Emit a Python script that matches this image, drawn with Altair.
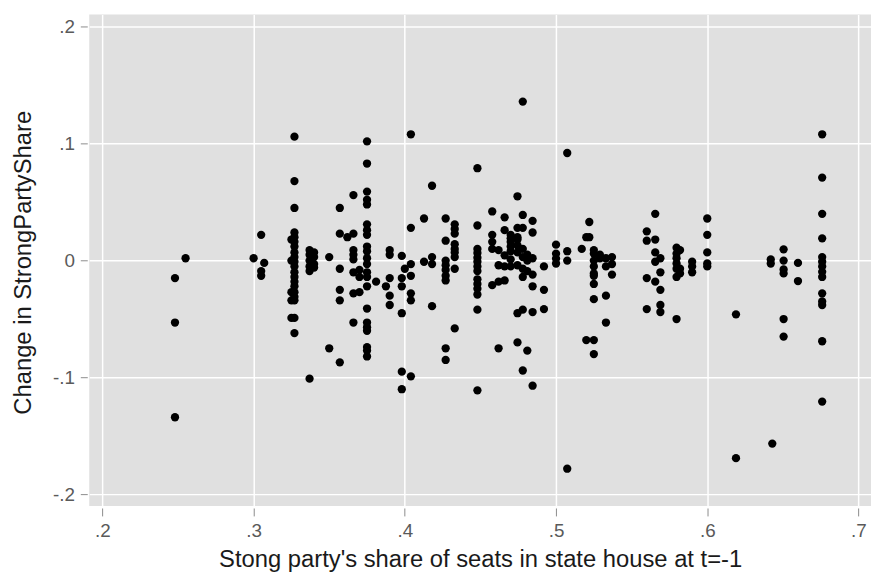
import altair as alt
import pandas as pd

# Strong party's share of seats at t-1 (x) and the change in StrongPartyShare (y),
# grouped by x value.
x_groups = [
    0.248, 0.255, 0.300, 0.305, 0.307, 0.325, 0.327, 0.337, 0.340, 0.350,
    0.357, 0.362, 0.366, 0.370, 0.375, 0.381, 0.3875, 0.390, 0.398, 0.400,
    0.404, 0.4127, 0.418, 0.427, 0.433, 0.448, 0.4578, 0.462, 0.466, 0.470,
    0.4745, 0.478, 0.481, 0.4845, 0.492, 0.500, 0.5074, 0.517, 0.520, 0.522,
    0.525, 0.529, 0.533, 0.537, 0.560, 0.5656, 0.569, 0.5797, 0.582, 0.590,
    0.600, 0.619, 0.642, 0.643, 0.6505, 0.660, 0.676,
]
y_groups = [
    [-0.015, -0.053, -0.134],
    [0.002],
    [0.002],
    [0.022, -0.009, -0.013],
    [-0.002],
    [0.018, 0.000, -0.027, -0.034, -0.049],
    [0.106, 0.068, 0.045, 0.024, 0.020, 0.016, 0.012, 0.007, 0.003, -0.001,
     -0.005, -0.010, -0.014, -0.018, -0.022, -0.027, -0.031, -0.034, -0.049, -0.062],
    [0.009, 0.005, 0.000, -0.005, -0.009, -0.101],
    [0.007, 0.003, -0.003, -0.006],
    [0.003, -0.075],
    [0.045, 0.023, -0.007, -0.025, -0.034, -0.087],
    [0.020],
    [0.056, 0.023, 0.009, 0.005, 0.001, -0.010, -0.028, -0.053],
    [-0.008, -0.014, -0.027],
    [0.102, 0.083, 0.059, 0.052, 0.048, 0.031, 0.026, 0.022, 0.012, 0.008, 0.002,
     -0.003, -0.010, -0.014, -0.022, -0.041, -0.053, -0.057, -0.060, -0.074, -0.077, -0.082],
    [-0.018],
    [-0.022],
    [0.009, 0.005, -0.015, -0.030, -0.038],
    [0.004, -0.015, -0.022, -0.045, -0.095, -0.110],
    [-0.007],
    [0.108, 0.028, -0.003, -0.013, -0.028, -0.034, -0.099],
    [0.036, -0.001],
    [0.064, 0.003, -0.003, -0.039],
    [0.036, 0.017, 0.000, -0.004, -0.008, -0.013, -0.017, -0.075, -0.085],
    [0.031, 0.027, 0.023, 0.014, 0.010, 0.007, 0.003, -0.007, -0.058],
    [0.079, 0.030, 0.010, 0.0065, 0.0025, -0.001, -0.005, -0.009, -0.016, -0.020,
     -0.024, -0.029, -0.042, -0.111],
    [0.042, 0.022, 0.016, 0.010, -0.021],
    [0.009, -0.004, -0.018, -0.075],
    [0.037, 0.026, 0.0045, -0.005, -0.017],
    [0.022, 0.019, 0.016, 0.012, 0.008, 0.001, -0.005],
    [0.055, 0.028, 0.020, 0.018, 0.013, 0.007, -0.004, -0.045, -0.070],
    [0.136, 0.039, 0.028, 0.010, 0.003, -0.007, -0.014, -0.042, -0.094],
    [0.005, 0.000, -0.009, -0.077],
    [0.034, 0.024, 0.002, -0.012, -0.022, -0.044, -0.107],
    [-0.005, -0.025, -0.0415],
    [0.0136, 0.006, 0.0017, -0.0025],
    [0.092, 0.008, 0.000, -0.178],
    [0.010],
    [0.020, -0.068],
    [0.033, 0.020],
    [0.009, 0.006, 0.000, -0.005, -0.011, -0.013, -0.020, -0.033, -0.068, -0.080],
    [0.002, 0.005],
    [0.002, -0.005, -0.030, -0.053],
    [0.003, -0.003, -0.012],
    [0.025, 0.017, -0.015, -0.0415],
    [0.040, 0.018, 0.007, -0.001, -0.018],
    [0.002, -0.010, -0.025, -0.038, -0.044],
    [0.011, 0.006, 0.002, -0.0025, -0.007, -0.014, -0.050],
    [0.009, -0.007, -0.011],
    [-0.001, -0.005, -0.010],
    [0.036, 0.022, 0.007, -0.0025, -0.005],
    [-0.046, -0.169],
    [0.001, -0.0025],
    [-0.1565],
    [0.0096, 0.000, -0.0076, -0.011, -0.050, -0.065],
    [-0.002, -0.0175],
    [0.108, 0.071, 0.040, 0.019, 0.003, -0.001, -0.005, -0.0096, -0.014, -0.028,
     -0.035, -0.038, -0.069, -0.1206],
]

x_ticks = [0.2, 0.3, 0.4, 0.5, 0.6, 0.7]
y_ticks = [-0.2, -0.1, 0.0, 0.1, 0.2]

rows = []
for xv, ys in zip(x_groups, y_groups):
    for yv in ys:
        rows.append({"share": xv, "change": yv})
df = pd.DataFrame(rows)

label_expr = ("datum.value == 0 ? '0' : (datum.value < 0 ? '-' : '') + '.' + "
              "format(abs(datum.value) * 10, '.0f')")

FONT = "Liberation Sans"

chart = alt.Chart(df).mark_circle(size=70, color="#000000", opacity=1).encode(
    x=alt.X("share:Q",
            scale=alt.Scale(domain=[0.1913, 0.7083], nice=False, zero=False),
            axis=alt.Axis(values=x_ticks, labelExpr=label_expr,
                          title="Stong party's share of seats in state house at t=-1",
                          offset=2, tickSize=8, labelPadding=6,
                          titleY=52, titleBaseline="middle")),
    y=alt.Y("change:Q",
            scale=alt.Scale(domain=[-0.2099, 0.2104], nice=False, zero=False),
            axis=alt.Axis(values=y_ticks, labelExpr=label_expr,
                          title="Change in StrongPartyShare",
                          offset=2, tickSize=7, labelPadding=6,
                          titleX=-64, titleY=250, titleAngle=270,
                          titleBaseline="middle", titleAlign="center")),
).properties(
    width=789,
    height=496,
    autosize=alt.AutoSizeParams(type="none"),
    padding={"left": 82, "top": 4, "right": 2, "bottom": 67},
).configure_view(
    fill="#e0e0e0", stroke=None,
).configure_axis(
    domain=False,
    grid=True, gridColor="#ffffff", gridWidth=1.5, gridOpacity=1,
    tickColor="#8c8c8c", tickWidth=1,
    labelFont=FONT, labelFontSize=19, labelColor="#5a5a5a",
    titleFont=FONT, titleFontSize=24, titleColor="#1a1a1a", titleFontWeight="normal",
)

chart.save("out.html", embed_options={"renderer": "svg", "actions": False})
